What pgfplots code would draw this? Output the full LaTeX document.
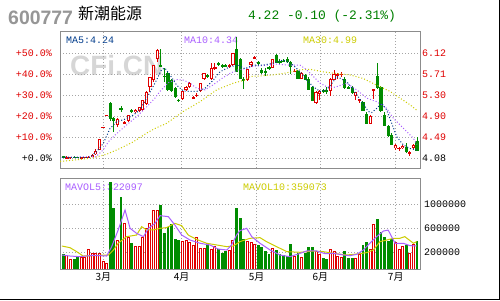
\documentclass[border=0pt]{standalone}
\usepackage{pgfplots}
\pgfplotsset{compat=1.18}
\usepackage{pgfplotstable}
\usepackage{fontspec}
\setmainfont{Liberation Mono}
\newfontfamily\cjk{Noto Sans CJK SC}
\newfontfamily\sansb{Liberation Sans}
\definecolor{cred}{RGB}{224,0,0}
\definecolor{cgreen}{RGB}{0,140,0}
\definecolor{cma5}{RGB}{0,60,140}
\definecolor{cma10}{RGB}{170,95,255}
\definecolor{cma30}{RGB}{204,204,0}
\definecolor{cgrid}{RGB}{165,165,165}
\definecolor{cframe}{RGB}{140,140,140}
\definecolor{cwm}{RGB}{214,214,214}
\definecolor{ctitle}{RGB}{150,150,150}
\definecolor{cgtxt}{RGB}{0,128,0}

\pgfplotstableread{
i o h l c v
1 4.09 4.13 4.08 4.10 155
2 4.10 4.11 4.08 4.11 88
5 4.09 4.11 4.08 4.10 116
6 4.10 4.11 4.09 4.10 116
7 4.09 4.12 4.08 4.11 255
8 4.10 4.16 4.10 4.15 183
9 4.16 4.26 4.15 4.22 183
10 4.25 4.46 4.24 4.45 194
11 4.68 4.68 4.68 4.68 61
12 4.92 4.92 4.92 4.92 16
15 4.72 4.87 4.68 4.85 405
17 4.76 4.80 4.74 4.78 694
18 4.81 4.93 4.79 4.92 461
20 4.98 5.03 4.96 5.02 305
21 4.99 5.08 4.97 5.07 305
22 5.02 5.22 5.00 5.21 461
23 5.14 5.38 5.12 5.37 600
24 5.47 5.66 5.37 5.65 694
25 5.60 5.90 5.57 5.89 905
26 6.00 6.20 5.95 6.18 905
33 5.23 5.39 5.22 5.38 388
34 5.41 5.48 5.39 5.47 405
35 5.46 5.56 5.44 5.54 377
36 5.25 5.29 5.24 5.26 322
37 5.30 5.34 5.28 5.31 461
38 5.39 5.55 5.37 5.54 277
39 5.62 5.74 5.60 5.73 277
41 5.62 5.93 5.60 5.84 255
42 5.83 5.94 5.80 5.85 305
46 5.86 5.91 5.84 5.89 238
47 5.89 6.13 5.88 6.12 405
51 5.60 5.82 5.58 5.81 388
52 5.89 5.98 5.86 5.96 377
53 6.03 6.07 6.00 6.04 338
58 5.84 6.01 5.83 6.00 266
64 5.76 5.82 5.75 5.78 138
66 5.63 5.75 5.62 5.74 122
70 5.16 5.38 5.14 5.37 222
71 5.33 5.40 5.22 5.39 172
74 5.38 5.64 5.29 5.63 255
75 5.61 5.79 5.60 5.71 222
76 5.69 5.74 5.63 5.71 138
77 5.71 5.76 5.66 5.72 122
81 5.29 5.36 5.21 5.36 100
82 5.21 5.22 5.15 5.22 166
85 4.75 4.92 4.74 4.91 250
86 5.41 5.41 5.23 5.41 672
92 4.28 4.36 4.24 4.33 372
93 4.27 4.30 4.22 4.28 255
94 4.28 4.34 4.26 4.32 311
96 4.18 4.22 4.12 4.19 183
97 4.28 4.36 4.27 4.34 338
}\uptab

\pgfplotstableread{
i o h l c v
0 4.12 4.12 4.09 4.10 171
3 4.11 4.12 4.09 4.10 88
4 4.11 4.11 4.09 4.10 127
13 5.15 5.18 4.80 4.84 1377
14 4.86 4.89 4.60 4.80 944
16 5.06 5.10 4.98 5.01 1127
19 5.02 5.04 4.96 4.97 361
27 5.90 6.20 5.86 5.86 988
28 5.68 5.83 5.57 5.66 527
29 5.74 5.76 5.38 5.41 627
30 5.60 5.62 5.37 5.39 666
31 5.44 5.46 5.26 5.28 422
32 5.21 5.24 5.17 5.20 405
40 5.70 5.72 5.64 5.66 361
43 5.93 5.95 5.88 5.89 255
44 5.90 5.92 5.84 5.86 183
45 5.89 5.91 5.86 5.87 222
48 6.20 6.44 5.75 5.76 944
49 6.00 6.02 5.62 5.63 766
50 5.61 5.66 5.42 5.60 422
54 5.96 5.98 5.88 5.91 322
55 5.80 5.83 5.72 5.73 288
56 5.78 5.83 5.68 5.75 222
57 5.85 5.87 5.80 5.81 177
59 6.08 6.10 5.93 5.94 238
60 5.96 6.00 5.92 5.95 172
61 5.98 6.00 5.95 5.96 155
62 6.00 6.04 5.94 5.95 144
63 5.96 5.97 5.72 5.85 338
65 5.78 5.80 5.62 5.63 194
67 5.69 5.72 5.60 5.61 194
68 5.63 5.65 5.40 5.41 288
69 5.47 5.49 5.19 5.20 288
72 5.41 5.43 5.35 5.36 111
73 5.40 5.47 5.32 5.38 88
78 5.63 5.65 5.43 5.44 222
79 5.47 5.49 5.42 5.44 111
80 5.47 5.48 5.33 5.34 111
83 5.18 5.19 4.99 5.00 322
84 4.95 4.97 4.74 4.75 366
87 5.68 5.93 5.42 5.44 755
88 5.46 5.48 4.98 4.99 538
89 4.93 4.97 4.70 4.71 461
90 4.71 4.73 4.50 4.51 394
91 4.53 4.57 4.33 4.34 422
95 4.30 4.38 4.18 4.21 322
98 4.42 4.50 4.22 4.22 388
}\dntab

\pgfplotstableread{
i p
-0.4 4.10
7.4 4.10
9.25 4.21
11.08 4.37
12.94 4.66
14.79 4.79
17.09 4.84
19.39 4.92
21.25 5.02
23.1 5.25
25.4 5.54
27.26 5.81
28.17 5.83
29.56 5.70
31.41 5.50
33.24 5.39
35.1 5.38
36.95 5.38
39.25 5.44
41.55 5.60
43.41 5.76
46.18 5.86
48.48 5.89
50.33 5.82
52.63 5.89
55.4 5.89
58.17 5.93
60.94 5.99
63.71 5.89
65.57 5.76
67.42 5.60
69.25 5.47
71.11 5.38
72.96 5.41
74.79 5.57
75.73 5.67
78.5 5.57
80.33 5.41
82.66 5.18
84.49 4.99
85.43 4.97
86.81 5.05
88.2 5.15
89.58 5.02
90.97 4.76
92.35 4.50
94.18 4.34
96.04 4.27
98 4.24
}\mafive

\pgfplotstableread{
i p
-0.4 4.10
9 4.11
11 4.24
12.47 4.40
14.32 4.53
17.56 4.73
20.33 4.89
23.1 5.08
25.4 5.25
26.79 5.38
29.09 5.55
31.41 5.61
33.24 5.60
35.1 5.54
36.95 5.44
39.25 5.41
41.55 5.51
43.88 5.63
46.18 5.73
48.48 5.80
50.33 5.82
52.63 5.87
56.34 5.89
59.11 5.91
62.8 5.89
65.57 5.89
67.42 5.80
69.25 5.67
71.11 5.54
72.96 5.47
75.26 5.46
78.5 5.54
81.27 5.41
84.04 5.25
86.81 5.18
89.58 5.05
91.41 4.86
93.27 4.73
95.12 4.60
96.95 4.47
98 4.35
}\maten

\pgfplotstableread{
i p
-0.9 4.02
3.71 4.05
8.31 4.09
12.02 4.16
15.71 4.27
19.39 4.40
23.1 4.57
25.4 4.66
28.64 4.76
33.24 4.99
37.87 5.18
42.49 5.41
47.09 5.54
50.33 5.60
51.72 5.67
54.49 5.68
58.17 5.70
61.88 5.74
65.57 5.80
68.34 5.81
72.02 5.76
75.26 5.73
79.42 5.70
83.1 5.63
86.81 5.50
90.5 5.38
93.27 5.25
96.04 5.12
98 5.01
}\mathirty

\pgfplotstableread{
i v
-0.4 155
1.86 138
4.63 127
8.32 150
12.0 138
13.4 294
15.2 572
17.1 905
18.5 600
20.3 516
22.2 461
23.6 600
25.4 683
26.8 811
29.1 794
30.9 655
32.8 488
35.1 405
37.9 350
40.6 322
42.9 255
45.3 238
46.6 322
48.0 488
48.9 560
50.8 600
52.2 461
54.5 350
57.3 238
60.0 155
62.8 127
65.6 183
67.4 222
70.2 222
72.5 177
74.8 183
77.6 155
79.4 144
81.3 166
83.1 238
84.9 350
86.8 461
88.7 555
90.0 570
91.9 350
94.2 350
96.0 311
97.9 305
}\mavfive

\pgfplotstableread{
i v
-0.4 305
1.86 277
3.7 211
5.5 138
8.3 144
11.1 155
12.5 155
13.9 238
15.2 350
17.5 461
20.3 488
21.7 627
23.1 572
24.9 572
26.8 600
28.6 611
30.9 683
32.8 644
34.6 488
36.9 416
39.7 350
42.5 322
45.3 294
47.1 305
48.9 377
51.7 433
54.5 444
56.3 377
59.1 294
61.9 211
65.6 200
69.3 222
72.0 211
74.8 183
78.5 155
81.3 172
84.0 194
85.9 238
87.7 377
89.6 405
91.4 433
93.2 433
94.6 461
97.0 350
97.9 377
}\mavten

\pgfplotsset{
  cndl/.style={draw=none, no markers, forget plot,
    error bars/.cd, y dir=both, y explicit, error mark=none},
  panel/.style={scale only axis, width=360bp,
    xmin=-0.914, xmax=98.81,
    axis line style={cframe, line width=1bp},
    major tick length=0pt,
    xtick={11.08,32.8,53.57,71.19,92.08},
    grid=major,
    major grid style={cgrid, line width=0.8bp, dash pattern=on 1bp off 2bp},
    ticklabel style={font=\fontsize{10}{12}\selectfont}},
}

\begin{document}
\begin{tikzpicture}[x=1bp,y=1bp]
\useasboundingbox (0,0) rectangle (500,300);
\fill[white] (0,0) rectangle (500,300);
\draw[black, line width=1.5bp] (0,0.75) -- (499.25,0.75) -- (499.25,300);

\node[anchor=base west, inner sep=0pt, text=ctitle, font=\sansb\bfseries\fontsize{19.5}{20}\selectfont] at (8,276) {600777};
\node[anchor=base west, inner sep=0pt, font=\cjk\fontsize{16}{16}\selectfont] at (78,281) {新潮能源};
\node[anchor=base west, inner sep=0pt, text=cgtxt, font=\fontsize{13}{13}\selectfont] at (248,280.5) {4.22 -0.10 (-2.31\%)};

\node[anchor=base west, inner sep=0pt, text=cwm, font=\sansb\bfseries\fontsize{28}{28}\selectfont] at (70,225) {CFi.CN};

\node[anchor=base west, inner sep=0pt, text=cma5, font=\fontsize{10}{10}\selectfont] at (66,257) {MA5:4.24};
\node[anchor=base west, inner sep=0pt, text=cma10, font=\fontsize{10}{10}\selectfont] at (184,257) {MA10:4.34};
\node[anchor=base west, inner sep=0pt, text=cma30, font=\fontsize{10}{10}\selectfont] at (303,257) {MA30:4.99};
\node[anchor=base west, inner sep=0pt, text=cma10, font=\fontsize{10}{10}\selectfont] at (65,110) {MAVOL5:322097};
\node[anchor=base west, inner sep=0pt, text=cma30, font=\fontsize{10}{10}\selectfont] at (243,110) {MAVOL10:359073};

% ---------- price panel ----------
\begin{axis}[panel, at={(60bp,132bp)}, anchor=south west, height=136.3bp,
  ymin=3.8915, ymax=6.5398,
  xticklabel=\empty,
  ytick={4.08,4.49,4.90,5.30,5.71,6.12},
  yticklabels={\textcolor{black}{+0.0\%},\textcolor{cred}{+10.0\%},\textcolor{cred}{+20.0\%},\textcolor{cred}{+30.0\%},\textcolor{cred}{+40.0\%},\textcolor{cred}{+50.0\%}},
  yticklabel style={inner sep=0pt, xshift=-8bp}]
\addplot[cndl, error bar style={draw=cred, line width=1bp}]
  table[x=i, y expr={(\thisrow{h}+\thisrow{l})/2}, y error expr={(\thisrow{h}-\thisrow{l})/2}] {\uptab};
\addplot[cndl, error bar style={draw=cgreen, line width=1bp}]
  table[x=i, y expr={(\thisrow{h}+\thisrow{l})/2}, y error expr={(\thisrow{h}-\thisrow{l})/2}] {\dntab};
\addplot[cndl, error bar style={draw=cred, line width=3.2bp}]
  table[x=i, y expr={(\thisrow{o}+\thisrow{c})/2}, y error expr={max((\thisrow{c}-\thisrow{o})/2,0.0097)}] {\uptab};
\addplot[cndl, error bar style={draw=white, line width=1.2bp}]
  table[x=i, y expr={(\thisrow{o}+\thisrow{c})/2}, y error expr={max((\thisrow{c}-\thisrow{o})/2-0.0194,0)}] {\uptab};
\addplot[cndl, error bar style={draw=cgreen, line width=3.2bp}]
  table[x=i, y expr={(\thisrow{o}+\thisrow{c})/2}, y error expr={max((\thisrow{o}-\thisrow{c})/2,0.0097)}] {\dntab};
\addplot[cma30, no markers, line width=1bp, dash pattern=on 1bp off 2bp] table[x=i, y=p] {\mathirty};
\addplot[cma10, no markers, line width=1bp, dash pattern=on 1bp off 2bp] table[x=i, y=p] {\maten};
\addplot[cma5, no markers, line width=1bp, dash pattern=on 1bp off 2bp] table[x=i, y=p] {\mafive};
\end{axis}

\begin{axis}[scale only axis, width=360bp, at={(60bp,132bp)}, anchor=south west, height=136.3bp,
  xmin=-0.914, xmax=98.81, ymin=3.8915, ymax=6.5398,
  hide x axis, axis y line*=right, y axis line style={draw=none},
  major tick length=0pt,
  ytick={4.08,4.49,4.90,5.30,5.71,6.12},
  yticklabels={\textcolor{black}{4.08},\textcolor{cred}{4.49},\textcolor{cred}{4.90},\textcolor{cred}{5.30},\textcolor{cred}{5.71},\textcolor{cred}{6.12}},
  yticklabel style={inner sep=0pt, anchor=west, xshift=2bp},
  ticklabel style={font=\fontsize{10}{12}\selectfont}]
\addplot[draw=none, no markers] coordinates {(0,5)};
\end{axis}

% ---------- volume panel ----------
\begin{axis}[panel, at={(60bp,31bp)}, anchor=south west, height=91bp,
  ymin=-78.333, ymax=1438.333,
  xticklabels={3月,4月,5月,6月,7月},
  xticklabel style={inner sep=0pt, anchor=north, yshift=-3bp, font=\cjk\fontsize{10}{10}\selectfont},
  ytick={200,600,1000},
  yticklabels={200000,600000,1000000},
  yticklabel pos=right,
  yticklabel style={inner sep=0pt, anchor=west, xshift=4bp}]
\addplot[cndl, error bar style={draw=cgreen, line width=2.8bp}]
  table[x=i, y expr={(\thisrow{v}-78.333)/2}, y error expr={(\thisrow{v}+78.333)/2}] {\dntab};
\addplot[cndl, error bar style={draw=cred, line width=3bp}]
  table[x=i, y expr={(\thisrow{v}-78.333)/2}, y error expr={(\thisrow{v}+78.333)/2}] {\uptab};
\addplot[cndl, error bar style={draw=white, line width=1bp}]
  table[x=i, y expr={(\thisrow{v}-95)/2}, y error expr={max((\thisrow{v}+61.666)/2,0)}] {\uptab};
\addplot[cma30, no markers, line width=1bp] table[x=i, y=v] {\mavten};
\addplot[cma10, no markers, line width=1bp] table[x=i, y=v] {\mavfive};
\end{axis}
\end{tikzpicture}
\end{document}
